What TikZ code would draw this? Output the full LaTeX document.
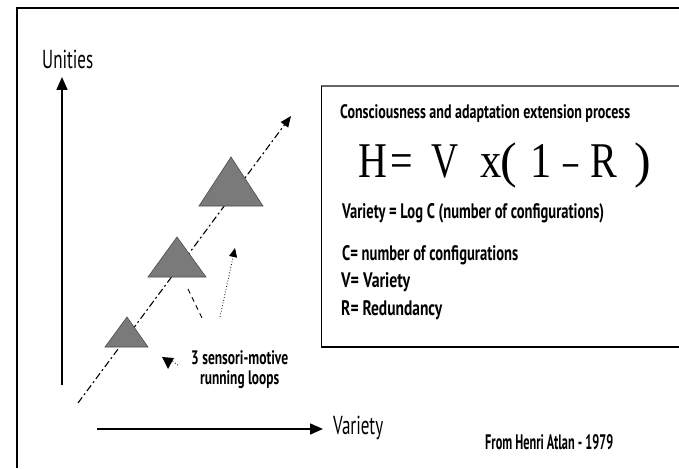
\documentclass[tikz,border=0pt]{standalone}
\usepackage{fontspec}
\usepackage{graphicx}
\setmainfont{PT Sans}
\newfontfamily\frmfont{Liberation Serif}
\usetikzlibrary{arrows.meta}
\newcommand\fitw[2]{\resizebox{#1}{\height}{#2}}
\definecolor{trigray}{HTML}{7A7A7A}
\tikzset{
  lbl/.style={inner sep=0pt, anchor=west, font=\bfseries\fontsize{19.5}{21}\selectfont},
  deflbl/.style={lbl, font=\bfseries\fontsize{21}{23}\selectfont},
  axlbl/.style={inner sep=0pt, anchor=west, font=\fontsize{26}{28}\selectfont},
  glyph/.style={inner sep=0pt, anchor=base, font=\frmfont\fontsize{50}{55}\selectfont},
  axis/.style={line width=1.6pt, -{Triangle[length=13pt,width=11pt]}},
  tri/.style={fill=trigray, draw=black!70, line width=0.6pt},
  smallhead/.style={-{Triangle[length=9pt,width=8pt]}}
}
\begin{document}
\begin{tikzpicture}[x=1pt,y=-1pt]
\useasboundingbox (0,0) rectangle (679,468);
\fill[white] (0,0) rectangle (679,468);
% outer frame (only left and top visible)
\coordinate (fbl) at (17,468);
\coordinate (ftl) at (17,8);
\coordinate (ftr) at (680,8);
\draw[line width=2.2pt] (fbl) -- (ftl) -- (ftr);
% inner box
\coordinate (ibtl) at (321,86);
\coordinate (ibtr) at (680,86);
\coordinate (ibbl) at (321,347);
\coordinate (ibbr) at (680,347);
\draw[line width=1.6pt, black!60] (ibtl) -- (ibtr);
\draw[line width=1pt] (ibtl) -- (ibbl);
\draw[line width=1.8pt] (ibbl) -- (ibbr);
% axes
\coordinate (ya0) at (62,385);
\coordinate (ya1) at (62,77);
\draw[axis] (ya0) -- (ya1);
\coordinate (xa0) at (97,429);
\coordinate (xa1) at (323,429);
\draw[axis] (xa0) -- (xa1);
\node[axlbl] (unities) at (42,59) {\fitw{51pt}{Unities}};
\node[axlbl] (variety) at (333,428) {\fitw{50pt}{Variety}};
% diagonal dashed arrow
\coordinate (d0) at (78,403);
\coordinate (d1) at (291,116);
\draw[line width=1.1pt, dash pattern=on 7pt off 3pt on 2pt off 3pt, -{Triangle[length=11pt,width=9pt]}] (d0) -- (d1);
% triangles
\draw[tri] (199,206) -- (231,157) -- (263,206) -- cycle;
\draw[tri] (148,277) -- (177,237) -- (206,277) -- cycle;
\draw[tri] (105,347) -- (127,317) -- (148,347) -- cycle;
% small loop marks
\coordinate (s0) at (188,289);
\coordinate (s1) at (202,318);
\draw[line width=0.9pt, dash pattern=on 5pt off 4pt] (s0) -- (s1);
\coordinate (p0) at (220,317);
\coordinate (p1) at (235,248);
\draw[line width=0.8pt, dotted, smallhead] (p0) -- (p1);
\coordinate (q0) at (178,365);
\coordinate (q1) at (172,361);
\draw[line width=0.8pt, dotted] (q0) -- (q1);
\fill (162,357) -- (174,358) -- (168,369) -- cycle;
\node[lbl] (loops1) at (191,358) {\fitw{97pt}{3 sensori-motive}};
\node[lbl] (loops2) at (200,380) {\fitw{79pt}{running loops}};
% box text
\node[lbl] (title) at (340,113) {\fitw{290pt}{Consciousness and adaptation extension process}};
\node[glyph] (gH) at (373,177) {\scalebox{0.8}[1]{H}};
\node[glyph] (gEq) at (402,177) {\scalebox{0.8}[1]{=}};
\node[glyph] (gV) at (445,177) {\scalebox{0.75}[1]{V}};
\node[glyph] (gx) at (491,177) {\scalebox{0.85}[1]{x}};
\node[glyph] (gLp) at (509,177) {(};
\node[glyph] (g1) at (541,177) {\scalebox{0.85}[1]{1}};
\node[glyph] (gMin) at (571,177) {\scalebox{0.6}[1]{–}};
\node[glyph] (gR) at (604,177) {\scalebox{0.8}[1]{R}};
\node[glyph] (gRp) at (643,177) {)};
\node[deflbl] (var) at (342,213) {\fitw{262pt}{Variety = Log C (number of configurations)}};
\node[deflbl] (cdef) at (342,255) {\fitw{176pt}{C= number of configurations}};
\node[deflbl] (vdef) at (341,282) {\fitw{69pt}{V= Variety}};
\node[deflbl] (rdef) at (341,310) {\fitw{101pt}{R= Redundancy}};
\node[deflbl] (src) at (485,442) {\fitw{128pt}{From Henri Atlan - 1979}};
\end{tikzpicture}
\end{document}
